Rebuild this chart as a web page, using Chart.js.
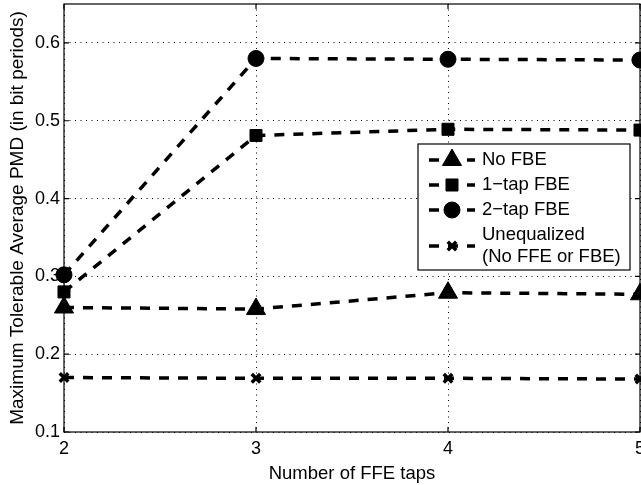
<!DOCTYPE html>
<html>
<head>
<meta charset="utf-8">
<script src="https://cdn.jsdelivr.net/npm/chart.js@4/dist/chart.umd.min.js"></script>
<style>
  html, body { margin: 0; padding: 0; background: #fff; overflow: hidden; }
  #wrap { width: 641px; height: 485px; position: relative; }
</style>
</head>
<body>
<div id="wrap"><canvas id="c" width="641" height="485"></canvas></div>
<script>
// ---- data ----
const ffeTaps = [2, 3, 4, 5];
const noFBE = [0.26, 0.258, 0.279, 0.277];
const oneTapFBE = [0.28, 0.481, 0.489, 0.488];
const twoTapFBE = [0.302, 0.58, 0.579, 0.578];
const unequalized = [0.17, 0.169, 0.169, 0.168];
const xTickValues = [2, 3, 4, 5];
const yTickValues = [0.1, 0.2, 0.3, 0.4, 0.5, 0.6];
const seriesLabels = ['No FBE', '1\u2212tap FBE', '2\u2212tap FBE', ['Unequalized', '(No FFE or FBE)']];
const xTitle = 'Number of FFE taps';
const yTitle = 'Maximum Tolerable Average PMD (in bit periods)';

const FONT = '"Liberation Sans", Arial, Helvetica, sans-serif';
const DASH = [10, 9];

function pts(ys) { return ffeTaps.map((x, i) => ({ x: x, y: ys[i] })); }

const base = {
  borderColor: '#000', backgroundColor: '#000', pointBackgroundColor: '#000', pointBorderColor: '#000',
  borderWidth: 3.5, borderDash: DASH, fill: false, tension: 0, clip: false, pointBorderWidth: 1
};

const datasets = [
  Object.assign({}, base, { label: seriesLabels[0], data: pts(noFBE), pointStyle: 'triangle', pointRadius: 11 }),
  Object.assign({}, base, { label: seriesLabels[1], data: pts(oneTapFBE), pointStyle: 'rect', pointRadius: 8.5 }),
  Object.assign({}, base, { label: seriesLabels[2], data: pts(twoTapFBE), pointStyle: 'circle', pointRadius: 8 }),
  Object.assign({}, base, { label: seriesLabels[3], data: pts(unequalized), pointStyle: 'crossRot', pointRadius: 6, pointBorderWidth: 3.5 })
];

function drawMarker(ctx, style, x, y, r, bw) {
  ctx.save();
  ctx.setLineDash([]);
  ctx.fillStyle = '#000'; ctx.strokeStyle = '#000'; ctx.lineWidth = bw;
  ctx.beginPath();
  if (style === 'triangle') {
    const hw = Math.sin(Math.PI / 3) * r;
    ctx.moveTo(x, y - r); ctx.lineTo(x + hw, y + r / 2); ctx.lineTo(x - hw, y + r / 2); ctx.closePath();
    ctx.fill(); ctx.stroke();
  } else if (style === 'rect') {
    const s = Math.SQRT1_2 * r;
    ctx.rect(x - s, y - s, 2 * s, 2 * s); ctx.fill(); ctx.stroke();
  } else if (style === 'circle') {
    ctx.arc(x, y, r, 0, Math.PI * 2); ctx.fill(); ctx.stroke();
  } else if (style === 'crossRot') {
    const o = Math.SQRT1_2 * r;
    ctx.moveTo(x - o, y - o); ctx.lineTo(x + o, y + o);
    ctx.moveTo(x - o, y + o); ctx.lineTo(x + o, y - o); ctx.stroke();
  }
  ctx.restore();
}

const framePlugin = {
  id: 'frame',
  beforeDatasetsDraw(chart) {
    const { ctx, chartArea: a, scales } = chart;
    ctx.save();
    ctx.strokeStyle = '#000'; ctx.lineWidth = 1.2; ctx.setLineDash([]);
    ctx.strokeRect(a.left, a.top, a.right - a.left, a.bottom - a.top);
    const tl = 5;
    ctx.beginPath();
    xTickValues.forEach(v => {
      const px = scales.x.getPixelForValue(v);
      ctx.moveTo(px, a.bottom); ctx.lineTo(px, a.bottom - tl);
      ctx.moveTo(px, a.top); ctx.lineTo(px, a.top + tl);
    });
    yTickValues.forEach(v => {
      const py = scales.y.getPixelForValue(v);
      ctx.moveTo(a.left, py); ctx.lineTo(a.left + tl, py);
      ctx.moveTo(a.right, py); ctx.lineTo(a.right - tl, py);
    });
    ctx.stroke();
    ctx.restore();
  },
  afterDatasetsDraw(chart) {
    const { ctx } = chart;
    const box = { x: 418, y: 144, w: 212, h: 126 };
    ctx.save();
    ctx.fillStyle = '#fff';
    ctx.fillRect(box.x, box.y, box.w, box.h);
    ctx.strokeStyle = '#000'; ctx.lineWidth = 1.2; ctx.setLineDash([]);
    ctx.strokeRect(box.x, box.y, box.w, box.h);
    const rowY = [160, 185, 210, 246];
    ctx.font = '18.5px ' + FONT;
    ctx.textBaseline = 'middle';
    ctx.textAlign = 'left';
    chart.data.datasets.forEach((ds, i) => {
      const y = rowY[i];
      ctx.save();
      ctx.strokeStyle = '#000'; ctx.lineWidth = 3.5; ctx.setLineDash(DASH);
      ctx.beginPath(); ctx.moveTo(429, y); ctx.lineTo(475, y); ctx.stroke();
      ctx.restore();
      drawMarker(ctx, ds.pointStyle, 452, y, ds.pointRadius, ds.pointBorderWidth);
      ctx.fillStyle = '#000';
      const lab = ds.label;
      if (Array.isArray(lab)) {
        ctx.fillText(lab[0], 482, y - 11);
        ctx.fillText(lab[1], 482, y + 11);
      } else {
        ctx.fillText(lab, 482, y);
      }
    });
    ctx.restore();
  }
};

new Chart(document.getElementById('c'), {
  type: 'line',
  data: { datasets: datasets },
  plugins: [framePlugin],
  options: {
    responsive: false,
    animation: false,
    events: [],
    layout: { autoPadding: false, padding: { left: 0, top: 4, right: 1, bottom: 0 } },
    plugins: { legend: { display: false }, tooltip: { enabled: false } },
    scales: {
      x: {
        type: 'linear', min: 2, max: 5,
        afterBuildTicks: s => { s.ticks = xTickValues.map(v => ({ value: v })); },
        afterFit: s => { s.height = 53; s.paddingLeft = 0; s.paddingRight = 0; },
        grid: { color: '#000', lineWidth: 1, drawTicks: false },
        border: { display: false, dash: [1, 4.5] },
        ticks: { color: '#000', font: { family: FONT, size: 18 }, padding: 6, maxRotation: 0, callback: v => String(v) },
        title: { display: true, text: xTitle, color: '#000', font: { family: FONT, size: 18.5 }, padding: { top: 1, bottom: 0 } }
      },
      y: {
        type: 'linear', min: 0.1, max: 0.65,
        afterBuildTicks: s => { s.ticks = yTickValues.map(v => ({ value: v })); },
        afterFit: s => { s.width = 64; s.paddingTop = 0; s.paddingBottom = 0; },
        grid: { color: '#000', lineWidth: 1, drawTicks: false },
        border: { display: false, dash: [1, 4.5] },
        ticks: { color: '#000', font: { family: FONT, size: 18 }, padding: 4, callback: v => v.toFixed(1) },
        title: { display: true, text: yTitle, color: '#000', font: { family: FONT, size: 19 }, padding: { top: 6, bottom: 0 } }
      }
    }
  }
});
</script>
</body>
</html>
